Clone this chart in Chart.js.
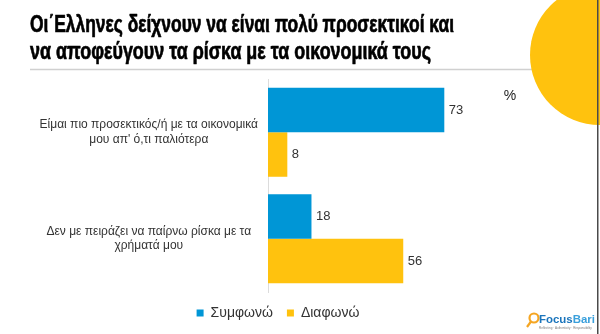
<!DOCTYPE html>
<html>
<head>
<meta charset="utf-8">
<script src="https://cdn.jsdelivr.net/npm/chart.js@4.4.1/dist/chart.umd.min.js"></script>
<style>
  html, body { margin: 0; padding: 0; background: #ffffff; }
  #wrap { position: relative; width: 600px; height: 334px; }
</style>
</head>
<body>
<div id="wrap"><canvas id="chart" width="600" height="334"></canvas></div>
<script>
// Survey statements (multi-line labels) and answer shares in %
const categories = [
  ['Είμαι πιο προσεκτικός/ή με τα οικονομικά', "μου απ' ό,τι παλιότερα"],
  ['Δεν με πειράζει να παίρνω ρίσκα με τα', 'χρήματά μου']
];
const seriesNames = ['Συμφωνώ', 'Διαφωνώ'];
const agreeValues = [73, 18];
const disagreeValues = [8, 56];

const titleLines = [
  'Οι΄Ελληνες δείχνουν να είναι πολύ προσεκτικοί και',
  'να αποφεύγουν τα ρίσκα με τα οικονομικά τους'
];
const unitLabel = '%';

const BLUE = '#0096D6';
const YELLOW = '#FFC20E';

// Slide decoration: title, rule, corner disc, unit sign, border and logo
const slideDecor = {
  id: 'slideDecor',
  beforeDraw(chart) {
    const ctx = chart.ctx;
    ctx.save();
    // thin grey rule under the title
    ctx.strokeStyle = '#d0d0d0';
    ctx.lineWidth = 1.5;
    ctx.beginPath();
    ctx.moveTo(30, 69.5);
    ctx.lineTo(545, 69.5);
    ctx.stroke();
    // yellow disc in the top-right corner
    ctx.fillStyle = YELLOW;
    ctx.beginPath();
    ctx.arc(600, 55, 70, 0, Math.PI * 2);
    ctx.fill();
    // right slide border
    ctx.fillStyle = '#4a4a4a';
    ctx.fillRect(597, 0, 1.5, 334);
    ctx.restore();
  },
  afterDraw(chart) {
    const ctx = chart.ctx;
    ctx.save();
    // title, condensed to its line width, slightly heavier stroke
    ctx.fillStyle = '#000000';
    ctx.strokeStyle = '#000000';
    ctx.lineWidth = 0.7;
    ctx.lineJoin = 'round';
    ctx.textBaseline = 'alphabetic';
    ctx.font = 'bold 24px "Liberation Sans Narrow", "Liberation Sans", Arial, sans-serif';
    const targetW = [424, 401];
    const baselines = [32, 59];
    titleLines.forEach((t, i) => {
      const w = ctx.measureText(t).width;
      ctx.save();
      ctx.translate(30, baselines[i]);
      ctx.scale(targetW[i] / w, 1);
      ctx.fillText(t, 0, 0);
      ctx.strokeText(t, 0, 0);
      ctx.restore();
    });
    // unit sign
    ctx.fillStyle = '#222222';
    ctx.font = '14px "Liberation Sans", Arial, sans-serif';
    ctx.textAlign = 'center';
    ctx.textBaseline = 'middle';
    ctx.fillText(unitLabel, 510, 96);
    // logo: magnifier + wordmark
    ctx.strokeStyle = '#F5A623';
    ctx.lineWidth = 2.2;
    ctx.beginPath();
    ctx.arc(534, 318, 4.5, 0, Math.PI * 2);
    ctx.stroke();
    ctx.beginPath();
    ctx.moveTo(531, 321.5);
    ctx.lineTo(527, 327);
    ctx.stroke();
    ctx.textAlign = 'left';
    ctx.textBaseline = 'alphabetic';
    ctx.font = 'bold 11px "Liberation Sans Narrow", "Liberation Sans", Arial, sans-serif';
    ctx.fillStyle = '#1B75BC';
    const fw = ctx.measureText('Focus').width;
    ctx.save();
    ctx.translate(539, 323);
    const total = ctx.measureText('FocusBari').width;
    ctx.scale(56 / total, 1);
    ctx.fillText('Focus', 0, 0);
    ctx.fillStyle = '#3AA0DC';
    ctx.fillText('Bari', fw, 0);
    ctx.restore();
    ctx.fillStyle = '#7a7a7a';
    ctx.font = '3px "Liberation Sans", Arial, sans-serif';
    ctx.fillText('Reflecting · Authenticity · Responsibility', 539, 328.5);
    ctx.restore();
  }
};

// Value labels at the end of each bar
const valueLabels = {
  id: 'valueLabels',
  afterDatasetsDraw(chart) {
    const ctx = chart.ctx;
    ctx.save();
    ctx.fillStyle = '#333333';
    ctx.font = '13px "Liberation Sans", Arial, sans-serif';
    ctx.textAlign = 'left';
    ctx.textBaseline = 'middle';
    chart.data.datasets.forEach((ds, di) => {
      chart.getDatasetMeta(di).data.forEach((bar, i) => {
        ctx.fillText(String(ds.data[i]), bar.x + 4.5, bar.y);
      });
    });
    ctx.restore();
  }
};

new Chart(document.getElementById('chart'), {
  type: 'bar',
  data: {
    labels: categories,
    datasets: [
      { label: seriesNames[0], data: agreeValues, backgroundColor: BLUE,
        categoryPercentage: 0.836, barPercentage: 1.0 },
      { label: seriesNames[1], data: disagreeValues, backgroundColor: YELLOW,
        categoryPercentage: 0.836, barPercentage: 1.0 }
    ]
  },
  options: {
    indexAxis: 'y',
    responsive: false,
    animation: false,
    layout: { padding: { left: 32, right: 76, top: 79, bottom: 4 } },
    scales: {
      x: { display: false, min: 0, max: 106 },
      y: {
        afterFit(scale) { scale.width = 236; },
        grid: { display: false, drawTicks: false },
        border: { display: true, color: '#dcdcdc', width: 1 },
        ticks: {
          crossAlign: 'center',
          padding: 10,
          color: '#333333',
          font: { family: '"Liberation Sans", Arial, sans-serif', size: 12, lineHeight: 1.2 }
        }
      }
    },
    plugins: {
      title: { display: false },
      tooltip: { enabled: false },
      legend: {
        position: 'bottom',
        labels: {
          boxWidth: 7,
          boxHeight: 7,
          padding: 14,
          color: '#333333',
          font: { family: '"Liberation Sans", Arial, sans-serif', size: 14 }
        }
      }
    }
  },
  plugins: [slideDecor, valueLabels]
});
</script>
</body>
</html>
